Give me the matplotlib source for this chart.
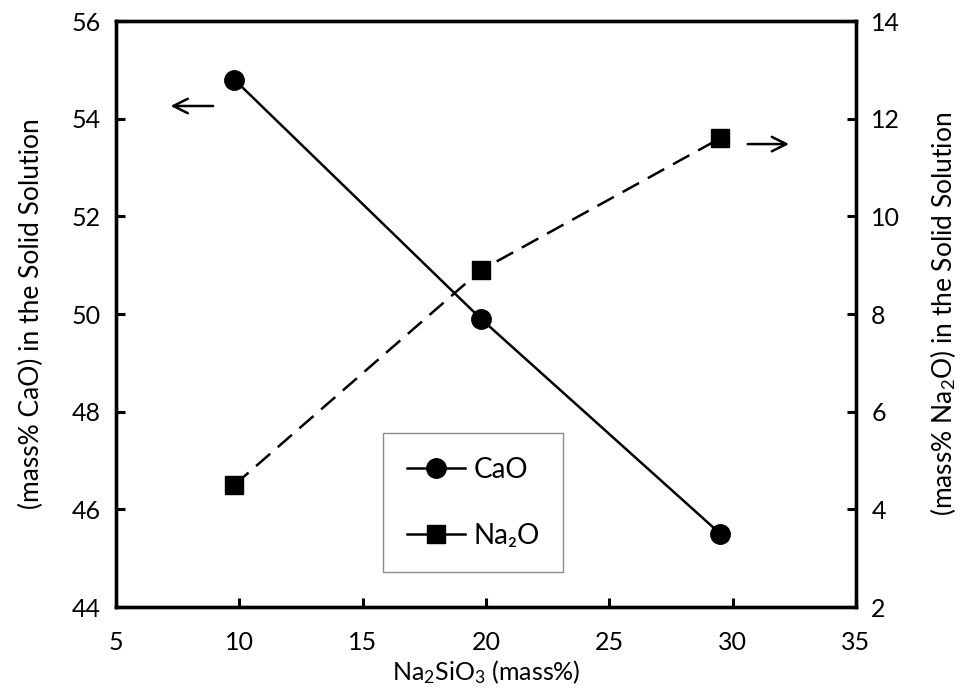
import matplotlib
matplotlib.use("Agg")
import matplotlib.pyplot as plt
from matplotlib.lines import Line2D

plt.rcParams["font.family"] = ["Lato", "DejaVu Sans"]
plt.rcParams["mathtext.fontset"] = "custom"
plt.rcParams["mathtext.rm"] = "Lato"
plt.rcParams["mathtext.it"] = "Lato:italic"

# Na2SiO3 added (mass%) and composition of the solid solution
na2sio3 = [9.8, 19.8, 29.5]
cao = [54.8, 49.9, 45.5]
na2o = [4.5, 8.9, 11.6]

x_ticks = [5, 10, 15, 20, 25, 30, 35]
left_ticks = [44, 46, 48, 50, 52, 54, 56]
right_ticks = [2, 4, 6, 8, 10, 12, 14]

fig = plt.figure(figsize=(9.61, 6.89), dpi=100)
ax = fig.add_axes([0.1207, 0.119, 0.770, 0.8505])
ax2 = ax.twinx()

ax.plot(na2sio3, cao, color="black", lw=1.8, marker="o", ms=14, zorder=3)
ax2.plot(na2sio3, na2o, color="black", lw=1.8, ls=(0, (7.5, 4)),
         marker="s", ms=13, zorder=3)

ax.set_xlim(5, 35)
ax.set_ylim(44, 56)
ax2.set_ylim(2, 14)
ax.set_xticks(x_ticks)
ax.set_yticks(left_ticks)
ax2.set_yticks(right_ticks)

for a in (ax, ax2):
    for s in a.spines.values():
        s.set_linewidth(2.4)
    a.tick_params(direction="in", length=6.5, width=2.2, labelsize=18, pad=11)
ax.tick_params(axis="x", pad=17)

ax.set_xlabel("Na$_2$SiO$_3$ (mass%)", fontsize=18, labelpad=3)
ax.set_ylabel("(mass% CaO) in the Solid Solution", fontsize=19, labelpad=20)
ax2.set_ylabel("(mass% Na$_2$O) in the Solid Solution", fontsize=19,
               rotation=90, labelpad=20)

# arrows pointing to the axis each series belongs to
ax.annotate("", xy=(7.1, 54.26), xytext=(9.05, 54.26),
            arrowprops=dict(arrowstyle="->", color="black", lw=1.8,
                            mutation_scale=26))
ax.annotate("", xy=(32.4, 53.48), xytext=(30.5, 53.48),
            arrowprops=dict(arrowstyle="->", color="black", lw=1.8,
                            mutation_scale=26))

handles = [
    Line2D([0], [0], color="black", lw=1.8, marker="o", ms=14, label="CaO"),
    Line2D([0], [0], color="black", lw=1.8, marker="s", ms=13, label="Na₂O"),
]
leg = ax.legend(handles=handles, loc="upper left", bbox_to_anchor=(0.361, 0.297),
                fontsize=20, frameon=True, fancybox=False, edgecolor="#707070",
                handlelength=2.1, handletextpad=0.3, labelspacing=1.45,
                borderpad=0.85, borderaxespad=0)
leg.get_frame().set_linewidth(1.0)

fig.savefig("out.png", dpi=100)
